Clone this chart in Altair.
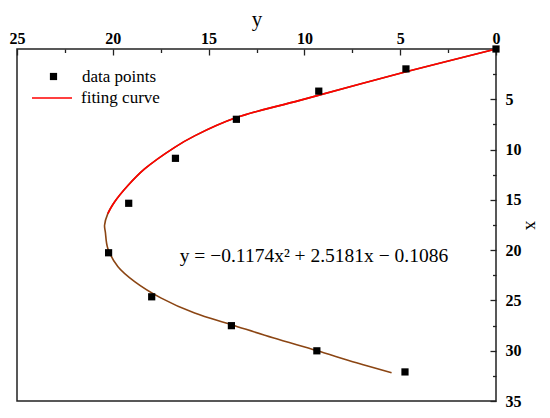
import altair as alt
import pandas as pd

# ---- data ----
# horizontal axis (titled "y") and vertical axis (titled "x")
pts_y = [0, 4.70, 9.25, 13.55, 16.73, 19.17, 20.22, 17.97, 13.81, 9.35, 4.75]
pts_x = [0, 1.98, 4.19, 6.99, 10.87, 15.34, 20.26, 24.64, 27.51, 30.01, 32.11]

curve_y = [0, 4.70, 10.24, 13.55, 15.73, 16.77, 18.34, 19.21, 19.91, 20.26,
           20.43, 20.39, 20.26, 19.73, 18.86, 17.47, 15.73, 13.81, 11.64, 9.37, 7.28, 5.45]
curve_x = [0, 2.27, 5.11, 6.82, 8.64, 9.78, 11.93, 13.58, 15.22, 16.37,
           17.53, 18.18, 19.83, 21.64, 23.12, 24.77, 26.26, 27.41, 28.72, 29.98, 31.20, 32.19]
split_index = 9  # curve turns from red to brown here

y_major = [0, 5, 10, 15, 20, 25]
y_minor = [2.5, 7.5, 12.5, 17.5, 22.5]
x_major = [5, 10, 15, 20, 25, 30, 35]
x_minor = [2.5, 7.5, 12.5, 17.5, 22.5, 27.5, 32.5]

eq_text = ["y = \u22120.1174x\u00b2 + 2.5181x \u2212 0.1086"]
eq_y = [9.5]
eq_x = [20.6]

RED = "#FF0000"
BROWN = "#8B4513"
FONT = "Liberation Serif"

pts = pd.DataFrame({"h": pts_y, "v": pts_x, "pt": "data points"})
upper = pd.DataFrame({"h": curve_y[:split_index + 1], "v": curve_x[:split_index + 1], "ln": "fiting curve"})
full = pd.DataFrame({"h": curve_y, "v": curve_x})
eq = pd.DataFrame({"h": eq_y, "v": eq_x, "t": eq_text})

hscale = alt.Scale(domain=[0, 25], reverse=True, nice=False, zero=False)
vscale = alt.Scale(domain=[0, 35], reverse=True, nice=False, zero=False)

tick_col = "#222222"

x_axis_major = alt.Axis(orient="top", values=y_major, title="y", offset=-6, tickSize=6,
                        domain=False, grid=False, labelFont=FONT, labelFontWeight="bold",
                        labelFontSize=16, labelColor="black", labelPadding=2.5, labelFlush=False,
                        labelOverlap=False, titleFont=FONT, titleFontSize=21,
                        titleFontWeight="normal", titleColor="black", titlePadding=1,
                        tickColor=tick_col, tickWidth=1.3)
x_axis_minor = alt.Axis(orient="top", values=y_minor, title=None, labels=False, offset=-3.5,
                        tickSize=3.5, domain=False, grid=False, tickColor=tick_col, tickWidth=1.3)
y_axis_major = alt.Axis(orient="right", values=x_major, title="x", offset=-6, tickSize=6,
                        domain=False, grid=False, labelFont=FONT, labelFontWeight="bold",
                        labelFontSize=16, labelColor="black", labelPadding=9, labelFlush=False,
                        labelOverlap=False, titleFont=FONT, titleFontSize=19,
                        titleFontWeight="normal", titleColor="black", titlePadding=0,
                        tickColor=tick_col, tickWidth=1.3)
y_axis_minor = alt.Axis(orient="right", values=x_minor, title=None, labels=False, offset=-3.5,
                        tickSize=3.5, domain=False, grid=False, tickColor=tick_col, tickWidth=1.3)

points = alt.Chart(pts).mark_point(filled=True, size=52, opacity=1).encode(
    x=alt.X("h:Q", scale=hscale, axis=x_axis_major),
    y=alt.Y("v:Q", scale=vscale, axis=y_axis_major),
    color=alt.value("black"),
    shape=alt.Shape("pt:N", scale=alt.Scale(domain=["data points"], range=["square"]),
                    legend=alt.Legend(title=None, orient="none", legendX=28, legendY=19,
                                      padding=0, labelFont=FONT, labelFontSize=17,
                                      labelColor="black", labelOffset=20, symbolSize=52,
                                      symbolFillColor="black", symbolStrokeWidth=0)),
)

curve_up = alt.Chart(upper).mark_line(strokeWidth=1.6, interpolate="catmull-rom").encode(
    x=alt.X("h:Q", scale=hscale, axis=x_axis_minor),
    y=alt.Y("v:Q", scale=vscale, axis=y_axis_minor),
    order=alt.Order("v:Q"),
    color=alt.Color("ln:N", scale=alt.Scale(domain=["fiting curve"], range=[RED]),
                    legend=alt.Legend(title=None, orient="none", legendX=14, legendY=28,
                                      padding=0, labelFont=FONT, labelFontSize=17,
                                      labelColor="black", labelOffset=8, symbolSize=1600,
                                      symbolStrokeWidth=1.6)),
)

curve_all = alt.Chart(full).mark_line(strokeWidth=1.6, interpolate="catmull-rom", color=BROWN).encode(
    x=alt.X("h:Q", scale=hscale, axis=None),
    y=alt.Y("v:Q", scale=vscale, axis=None),
    order=alt.Order("v:Q"),
)

label = alt.Chart(eq).mark_text(font=FONT, fontSize=19.5, align="center", baseline="middle",
                                color="black").encode(
    x=alt.X("h:Q", scale=hscale, axis=None),
    y=alt.Y("v:Q", scale=vscale, axis=None),
    text="t:N",
)

chart = alt.layer(curve_all, curve_up, points, label).resolve_axis(
    x="independent", y="independent"
).properties(
    width=479, height=352,
    autosize=alt.AutoSizeParams(type="none"),
    padding={"left": 9, "top": 41, "right": 46, "bottom": 9},
).configure_view(stroke="#222222", strokeWidth=1.5)

chart.save("out.html", embed_options={"renderer": "svg", "actions": False})
